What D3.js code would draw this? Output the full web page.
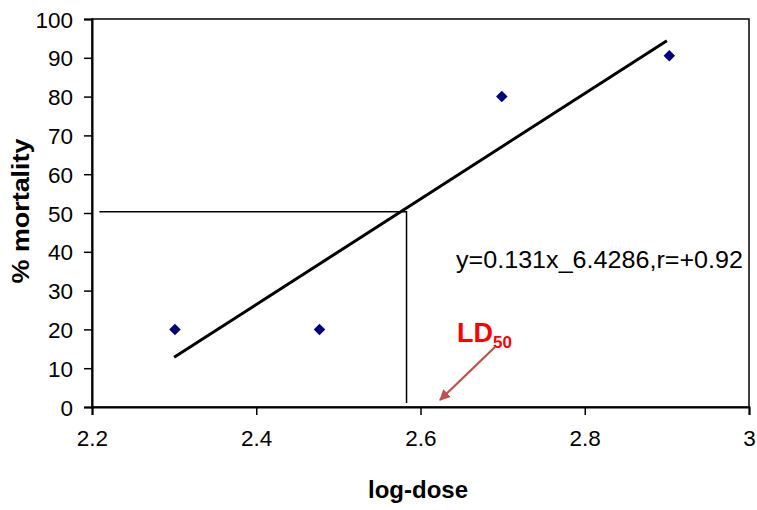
<!DOCTYPE html>
<html><head><meta charset="utf-8">
<script src="https://cdn.jsdelivr.net/npm/d3@7"></script>
<style>body{margin:0;background:#fff;} svg{display:block;font-family:Arial,"Liberation Sans",sans-serif;}</style>
</head><body>
<svg id="c" width="757" height="510"></svg>
<script>
const logDose = [2.301, 2.477, 2.699, 2.903];
const mortality = [20, 20, 80, 90.5];
const fitX = [2.3, 2.9];
const fitY = [12.8, 94.4];
const ld50X = 2.583;
const ld50Y = 50.3;
const hLineStart = 2.209;
const vLineBottom = 1;
const xTicks = [2.2, 2.4, 2.6, 2.8, 3];
const xTickLabels = ["2.2", "2.4", "2.6", "2.8", "3"];
const yTicks = [0,10,20,30,40,50,60,70,80,90,100];
const equation = "y=0.131x_6.4286,r=+0.92";

const svg = d3.select("#c");
const L = 92, T = 19, R = 749, B = 407;
const x = d3.scaleLinear().domain([2.2, 3]).range([L, R]);
const y = d3.scaleLinear().domain([0, 100]).range([B, T]);

// frame
svg.append("rect").attr("x", L).attr("y", T).attr("width", R - L).attr("height", B - T)
  .attr("fill", "none").attr("stroke", "#000").attr("stroke-width", 1.5);

// axes
const yAxis = svg.append("g").attr("transform", `translate(${L},0)`)
  .call(d3.axisLeft(y).tickValues(yTicks).tickSize(8).tickPadding(11).tickFormat(d3.format("d")));
const xAxis = svg.append("g").attr("transform", `translate(0,${B})`)
  .call(d3.axisBottom(x).tickValues(xTicks).tickSize(8).tickPadding(11).tickFormat((d, i) => xTickLabels[i]));
[yAxis, xAxis].forEach(g => {
  g.select(".domain").attr("stroke", "#000").attr("stroke-width", 2);
  g.selectAll(".tick line").attr("stroke", "#000").attr("stroke-width", 1.5);
  g.selectAll(".tick text").attr("fill", "#000").style("font-size", "22.5px").style("font-family", "Arial,'Liberation Sans',sans-serif");
});
yAxis.selectAll(".tick text").attr("dy", "0.36em");
xAxis.selectAll(".tick text").attr("dy", "0.9em");

// LD50 guide lines
svg.append("path")
  .attr("d", d3.line()([[x(hLineStart), y(ld50Y)], [x(ld50X), y(ld50Y)], [x(ld50X), y(vLineBottom)]]))
  .attr("fill", "none").attr("stroke", "#000").attr("stroke-width", 1.5);

// regression line
svg.append("line")
  .attr("x1", x(fitX[0])).attr("y1", y(fitY[0]))
  .attr("x2", x(fitX[1])).attr("y2", y(fitY[1]))
  .attr("stroke", "#000").attr("stroke-width", 3);

// points
const diamond = d3.symbol().type(d3.symbolSquare).size(66);
svg.selectAll(".pt").data(logDose).enter().append("path")
  .attr("d", diamond)
  .attr("transform", (d, i) => `translate(${x(d)},${y(mortality[i])}) rotate(45)`)
  .attr("fill", "#000080");

// equation
svg.append("text").attr("x", 456).attr("y", 268)
  .attr("textLength", 287).attr("lengthAdjust", "spacingAndGlyphs")
  .style("font-size", "23px").attr("fill", "#000").text(equation);

// LD50 label
const ld = svg.append("text").attr("x", 457).attr("y", 342).attr("fill", "#ff0000")
  .style("font-weight", "bold").style("font-size", "27px");
ld.append("tspan").text("LD");
ld.append("tspan").attr("dy", 6).style("font-size", "17px").text("50");

// arrow
svg.append("defs").append("marker").attr("id", "ah").attr("viewBox", "0 0 10 10")
  .attr("refX", 9).attr("refY", 5).attr("markerWidth", 5).attr("markerHeight", 5)
  .attr("orient", "auto").attr("markerUnits", "strokeWidth")
  .append("path").attr("d", "M0,0 L10,5 L0,10 z").attr("fill", "#c0504d");
svg.append("line").attr("x1", 495).attr("y1", 347).attr("x2", 440).attr("y2", 400)
  .attr("stroke", "#c0504d").attr("stroke-width", 2.2).attr("marker-end", "url(#ah)");

// axis titles
svg.append("text").attr("x", 418).attr("y", 498).attr("text-anchor", "middle")
  .style("font-weight", "bold").style("font-size", "24px").text("log-dose");
svg.append("text").attr("transform", "translate(29,211) rotate(-90)").attr("text-anchor", "middle")
  .attr("textLength", 145).attr("lengthAdjust", "spacingAndGlyphs")
  .style("font-weight", "bold").style("font-size", "24px").text("% mortality");
</script>
</body></html>
